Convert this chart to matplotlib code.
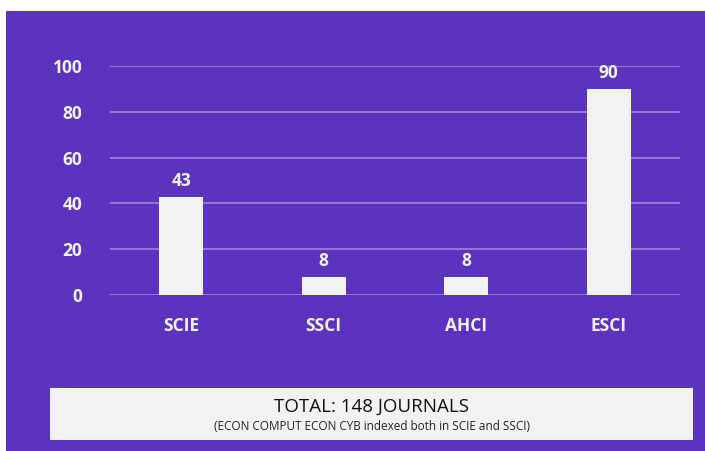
import matplotlib.pyplot as plt
from matplotlib.patches import Rectangle

categories = ["SCIE", "SSCI", "AHCI", "ESCI"]
counts = [43, 8, 8, 90]
yticks = [0, 20, 40, 60, 80, 100]
total_label = "TOTAL: 148 JOURNALS"
note_label = "(ECON COMPUT ECON CYB indexed both in SCIE and SSCI)"

PURPLE = "#5c33be"
GRID = "#9d86dc"
BAR = "#f2f2f2"

W, H = 705, 451
fig = plt.figure(figsize=(W / 100, H / 100), dpi=100, facecolor="white")

# purple backdrop
fig.patches.append(Rectangle((6 / W, 0), 1 - 6 / W, 1 - 11 / H,
                             transform=fig.transFigure, facecolor=PURPLE,
                             edgecolor="none", zorder=-10))

ax = fig.add_axes([110 / W, 1 - 295 / H, 570 / W, (295 - 66) / H])
ax.set_facecolor("none")
x = range(len(categories))
ax.bar(x, counts, width=0.31, color=BAR, zorder=3)
ax.set_xlim(-0.5, 3.5)
ax.set_ylim(0, 100)
ax.set_yticks(yticks)
ax.yaxis.grid(True, color=GRID, linewidth=1.2, zorder=0)
ax.set_axisbelow(True)
for s in ax.spines.values():
    s.set_visible(False)
ax.tick_params(length=0, colors="white", labelsize=12.5, pad=20)
ax.tick_params(axis="x", pad=16)
ax.set_xticks(list(x))
ax.set_xticklabels(categories)
for lbl in ax.get_xticklabels() + ax.get_yticklabels():
    lbl.set_fontfamily("Open Sans")
    lbl.set_fontweight("bold")
    lbl.set_color("#f2f2f2")

for xi, v in zip(x, counts):
    ax.text(xi, v + 3, str(v), ha="center", va="bottom", color="#f2f2f2",
            fontsize=12.5, fontweight="bold", fontfamily="Open Sans")

# total box
fig.patches.append(Rectangle((50 / W, 1 - 440 / H), (693 - 50) / W, (440 - 388) / H,
                             transform=fig.transFigure, facecolor="#f2f2f2",
                             edgecolor="none", zorder=1))
fig.text((50 + 693) / 2 / W, 1 - 407 / H, total_label, ha="center", va="center",
         fontsize=13.5, fontfamily="Open Sans", fontweight="medium", color="#111111")
fig.text((50 + 693) / 2 / W, 1 - 427 / H, note_label, ha="center", va="center",
         fontsize=8.5, fontfamily="Open Sans", color="#222222")

fig.savefig("out.png", dpi=100, facecolor="white")
